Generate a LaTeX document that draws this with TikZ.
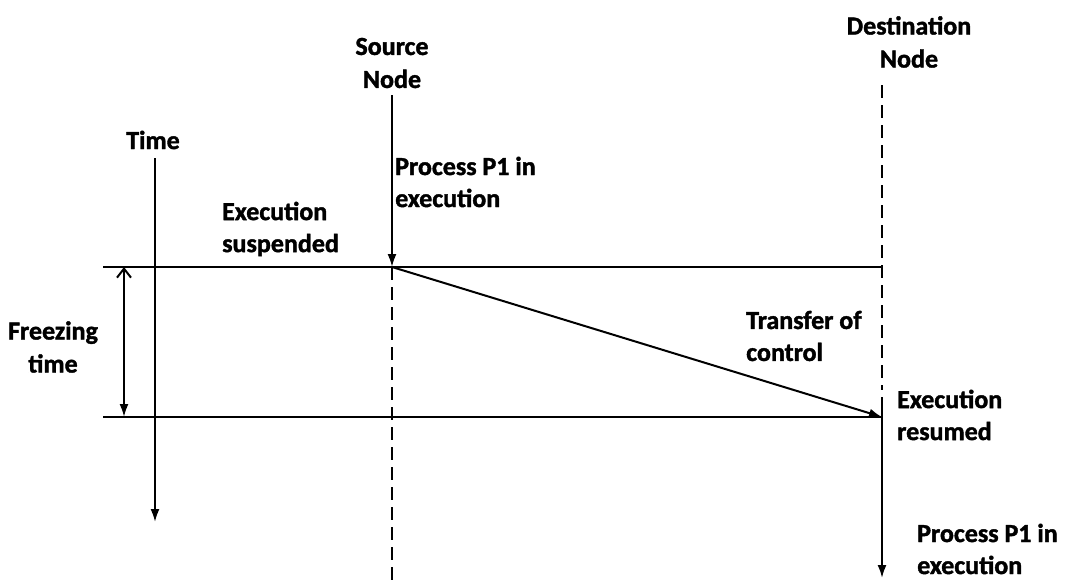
\documentclass[tikz,border=0pt]{standalone}
\usepackage{fontspec}
\setmainfont{Carlito}[BoldFeatures={FakeBold=1.5}]
\usetikzlibrary{arrows.meta}
\begin{document}
\begin{tikzpicture}[x=1pt,y=-1pt,
  ln/.style={line width=2pt,black},
  dsh/.style={line width=2pt,black,dash pattern=on 13pt off 7pt},
  tip/.style={-{Latex[length=13pt,width=9pt]}},
  lbl/.style={font=\bfseries\fontsize{26}{32}\selectfont,align=left,inner sep=0pt},
  clbl/.style={font=\bfseries\fontsize{26}{33}\selectfont,align=center,inner sep=0pt}]
\useasboundingbox (0,0) rectangle (1073,582);
% coordinates
\coordinate (tTop) at (155,158);
\coordinate (tBot) at (155,522);
\coordinate (sTop) at (392,95);
\coordinate (sMid) at (392,267);
\coordinate (sBot) at (392,580);
\coordinate (dTop) at (882,85);
\coordinate (dDash) at (882,390);
\coordinate (dSol) at (882,397);
\coordinate (dMid) at (882,417);
\coordinate (dBot) at (882,578);
\coordinate (hLa) at (103,267);
\coordinate (hRa) at (882,267);
\coordinate (hLb) at (103,417);
\coordinate (hRb) at (882,417);
\coordinate (fTop) at (124,267);
\coordinate (fBot) at (124,417);
% labels
\node[clbl] (time) at (153,140) {Time};
\node[clbl] (src) at (392,63) {Source\\Node};
\node[clbl] (dst) at (909,42) {Destination\\Node};
\node[clbl] (frz) at (53,347) {Freezing\\time};
\node[lbl,anchor=west] (susp) at (222,229) {Execution\\suspended};
\node[lbl,anchor=west] (p1a) at (395,182) {Process P1 in\\execution};
\node[lbl,anchor=west] (xfer) at (746,336) {Transfer of\\control};
\node[lbl,anchor=west] (res) at (897,415) {Execution\\resumed};
\node[lbl,anchor=west] (p1b) at (917,549) {Process P1 in\\execution};
% lines
\draw[ln,tip] (tTop) -- (tBot);
\draw[ln,tip] (sTop) -- (sMid);
\draw[dsh] (sMid) -- (sBot);
\draw[dsh] (dTop) -- (dDash);
\draw[ln,tip] (dSol) -- (dBot);
\draw[ln] (hLa) -- (hRa);
\draw[ln] (hLb) -- (hRb);
\draw[ln,{Straight Barb[length=9pt,width=14pt]}-{Latex[length=13pt,width=9pt]}] (fTop) -- (fBot);
\draw[ln,tip] (sMid) -- (dMid);
\end{tikzpicture}
\end{document}
